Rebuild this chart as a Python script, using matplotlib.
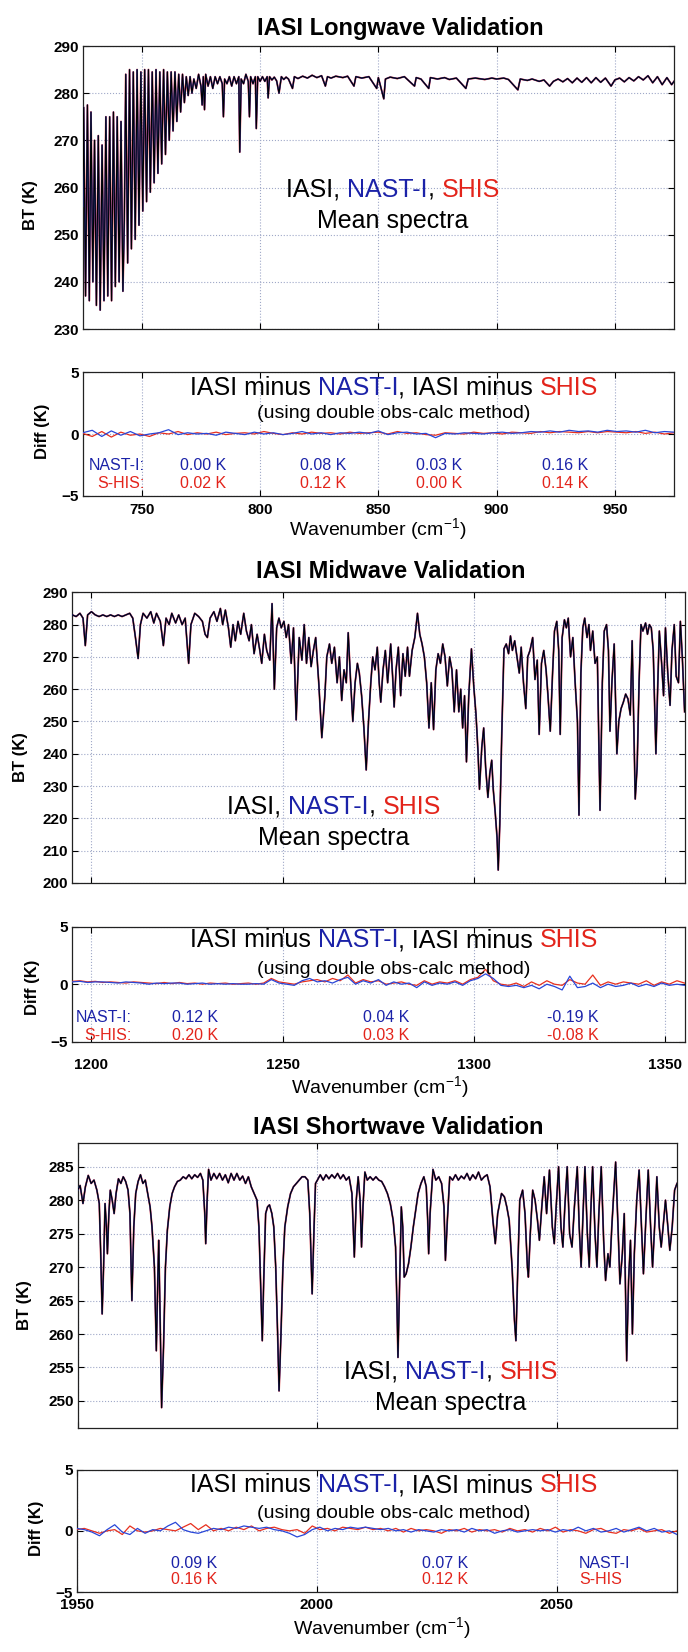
import numpy as np
import matplotlib
matplotlib.use('Agg')
import matplotlib.pyplot as plt

plt.rcParams['font.family'] = ['Liberation Sans', 'DejaVu Sans']
plt.rcParams['mathtext.fontset'] = 'custom'
plt.rcParams['mathtext.rm'] = 'Liberation Sans'
plt.rcParams['mathtext.it'] = 'Liberation Sans:italic'
plt.rcParams['mathtext.bf'] = 'Liberation Sans:bold'

# ---------------- data ----------------
lw_points = [
 (725.0,256),(725.4,277),(726.2,237),(727.0,277.5),(727.8,236),(728.5,276),(729.3,240),(730.0,270),
 (730.8,235),(731.6,271),(732.4,234),(733.2,269),(734.0,236),(734.8,275),(735.6,237),(736.4,275),
 (737.2,236),(738.0,276),(738.8,239),(739.6,275),(740.4,240),(741.2,274),(742.0,238),(742.6,253),
 (743.2,284),(744.0,244),(744.8,285),(745.6,247),(746.4,284.5),(747.2,249),(748.0,285),(748.8,252),
 (749.6,284.5),(750.4,255),(751.2,285),(752.0,257),(752.8,285),(753.6,259),(754.4,284.5),(755.2,261),
 (756.0,285),(756.8,263),(757.6,284.5),(758.4,265),(759.2,285),(760.0,267),(760.8,284.5),(761.6,270),
 (762.4,284.5),(763.2,272),(764.0,284.5),(764.8,274),(765.6,284),(766.4,276),(767.2,284),(768.0,278),
 (768.8,283.5),(769.6,279.5),(770.4,283.5),(771.2,280),(772,283),(773,281),(774,284),(775,281.5),
 (775.5,277.5),(776,283.5),(776.5,276.5),(777,284),(778,281.5),(779,283.5),(780,281),(781,283.5),
 (782,282),(783,283.5),(784,282),(784.5,275),(785,283),(786,282),(787,283.5),(788,281.5),(789,283.5),
 (790,282),(791,283.5),(791.4,267.5),(792,283),(793,282),(794,284),(795,282.5),(795.5,275),(796,283.5),
 (797,282),(798,283.5),(798.4,272.5),(799,283.5),(800,282.5),(801,283.5),(802,282.5),(803,283.5),
 (803.4,279),(804,283.5),(805,282.8),(806,283.4),(807,282.6),(808,280),(809,283.5),(810,282.9),(811,283.4),
 (812,283),(813.7,281),(814.5,283.5),(816,283.1),(818,283.6),(820,283.2),(822,283.8),(824,283.3),
 (826,283.7),(827.6,281.5),(828.5,283.5),(830,283.2),(832,283.6),(835,283.3),(837,283.6),(839.7,281.5),
 (840.5,283.5),(843,283.2),(846,283.5),(849.3,281),(850,283.3),(852.3,278.8),(853,283),(855,283.4),
 (858,283.1),(861,283.5),(865.3,281.5),(866,283.3),(868,283),(871.3,281),(872,283.3),(875,283),
 (878,283.3),(880,282.9),(883,283.2),(887,281),(888,283),(891,283.2),(895,282.9),(898,283.2),(900,283),
 (903,283.2),(905,282.9),(909,280.7),(910,283),(913,282.7),(915,283),(918,282.5),(920,282.8),
 (922.4,281.5),(924,282.5),(926,283),(928,282.4),(930,283.1),(932,282.2),(934,283.2),(936,282.3),
 (938,283.3),(940,282.2),(942,283.3),(944,282.3),(946,283.2),(948.4,281.5),(950,282.8),(952,283.2),
 (954,282.4),(956,283.3),(958,282.6),(960,283.5),(962,282.8),(964,283.7),(966,282.2),(968,283.5),
 (970,281.8),(972,283.3),(974,281.8),(975,282.5)]

mw_points = [
 (1195,283),(1196,282.5),(1197,283.5),(1197.8,282),(1198.4,273.5),(1199,283),(1200,284),(1201,283),
 (1202,282.5),(1203,283),(1204,282.5),(1205,283),(1206,282.5),(1207,283),(1208,282.5),(1209,283),
 (1210,283.5),(1210.8,282),(1211.5,276),(1212.2,269.5),(1212.8,280),(1213.5,283.5),(1214.5,282),
 (1215.5,284),(1216.3,280.5),(1217,283.5),(1218,281),(1218.8,273.5),(1219.5,282),(1220.3,280),
 (1221,283.5),(1222,280.5),(1222.8,283),(1223.7,280),(1224.5,282),(1225.4,268),(1226,280),(1227,283.5),
 (1228,282.5),(1229,281),(1229.7,277),(1230.3,276),(1231,282),(1232,284),(1232.8,281),(1233.7,285),
 (1234.3,280),(1235,284.5),(1235.8,279),(1236.4,273),(1237,280),(1237.6,275),(1238.3,281),(1239,277),
 (1239.8,283.5),(1240.5,278),(1241.2,275),(1241.8,280),(1242.5,271),(1243.3,277),(1244,272),(1244.5,268),
 (1245.2,277),(1245.8,272),(1246.6,269),(1247.2,286.5),(1247.8,260),(1248.4,279),(1249,282),(1249.6,279),
 (1250.3,281),(1250.9,276),(1251.5,280),(1252.2,268),(1252.8,279),(1253.5,250.5),(1254.3,276),(1255,269),
 (1255.6,280),(1256.2,268),(1256.8,276),(1257.4,267),(1258,272),(1258.6,276),(1259.4,262),(1260.2,245),
 (1261,258),(1261.5,270),(1262.2,274),(1262.8,268),(1263.5,273),(1264.2,262),(1264.8,270),(1265.4,256.5),
 (1266,266),(1266.6,262),(1267.1,277.5),(1267.7,263),(1268.3,250),(1268.9,262),(1269.5,268),(1270,265),
 (1270.6,258),(1271.2,248),(1271.8,235),(1272.4,250),(1273,262),(1273.5,270),(1274.1,266),(1274.7,273),
 (1275.2,262),(1275.6,256),(1276.2,266),(1276.8,272),(1277.4,262),(1278.2,274),(1278.7,264),(1279.1,254.5),
 (1279.6,266),(1280.2,273),(1280.8,258),(1281.4,271),(1282,264),(1282.6,273),(1283.1,264),(1283.8,272),
 (1284.5,276),(1285.2,283.5),(1285.8,277),(1286.4,274),(1287,270),(1287.6,262),(1288.2,248),(1288.8,262),
 (1289.4,247.5),(1290,266),(1290.6,271),(1291.2,268),(1291.8,274),(1292.4,270),(1293,261),(1293.6,270),
 (1294.2,266),(1294.8,253),(1295.4,266),(1296,253),(1296.5,260),(1297,248),(1297.5,258),(1298,237.5),
 (1298.6,258),(1299.3,272.5),(1299.9,261),(1300.5,252),(1301,241),(1301.4,229),(1302,242),(1302.5,248),
 (1303,236),(1303.6,226.5),(1304.1,234),(1304.6,238),(1305,229),(1305.5,222),(1306,214),(1306.3,204),
 (1306.7,218),(1307.2,245),(1307.8,272.5),(1308.4,274),(1309,271),(1309.5,276.5),(1310,272),(1310.6,275),
 (1311.2,270),(1311.8,265),(1312.3,273),(1312.9,262),(1313.5,254),(1314,270),(1314.6,272),(1315.3,276),
 (1315.9,263),(1316.5,269),(1317,246),(1317.6,268),(1318.2,272),(1318.8,266),(1319.3,258),(1319.9,247),
 (1320.5,265),(1321,278),(1321.6,281),(1322.1,272),(1322.5,246),(1323,276),(1323.6,281.5),(1324.1,279),
 (1324.6,282),(1325.2,270),(1325.8,276),(1326.4,262),(1327,250),(1327.4,221),(1327.9,265),(1328.4,279),
 (1328.9,282),(1329.5,276),(1330,280),(1330.4,272),(1331,278),(1331.6,268),(1332.2,270),(1332.9,222.5),
 (1333.5,262),(1334,278),(1334.6,280),(1335.1,272),(1335.5,247),(1336,262),(1336.6,274),(1337.3,240),
 (1337.8,250),(1338.4,254),(1339,256),(1339.6,258.5),(1340.2,257),(1340.8,252),(1341.3,275),(1342.1,226),
 (1342.6,236),(1343.1,262),(1343.6,280),(1344.1,278),(1344.8,280.5),(1345.3,277),(1345.8,280),(1346.3,279),
 (1346.8,272),(1347.5,240),(1348,262),(1348.4,278),(1349,268),(1349.5,258),(1350,279),(1350.6,265),
 (1351.2,255),(1351.7,272),(1352.3,280),(1352.8,264),(1353.4,262),(1353.9,281),(1354.4,270),(1355,253)]

sw_points = [
 (1950,281.5),(1950.5,282.2),(1951.1,279.5),(1951.6,282),(1952.2,283.7),(1952.8,282.5),(1953.4,283),
 (1954,281.5),(1954.5,279.5),(1954.8,272),(1955.1,263),(1955.4,270),(1955.7,279.5),(1956,276),(1956.2,272),
 (1956.5,278),(1956.8,281.5),(1957.2,280),(1957.6,278),(1958,281),(1958.5,283.2),(1959,282.5),(1959.5,283.5),
 (1960,282.8),(1960.5,281.5),(1960.9,278),(1961.3,265),(1961.7,276),(1962.1,281),(1962.6,282.8),
 (1963.1,283.8),(1963.6,282.5),(1964.1,283),(1964.6,281),(1965.1,279),(1965.5,276),(1966,270),(1966.4,257.5),
 (1966.7,268),(1966.9,274),(1967.2,262),(1967.5,249),(1967.9,258),(1968.3,270),(1968.7,275.5),(1969.2,279),
 (1969.7,281),(1970.2,282),(1970.8,282.8),(1971.4,283),(1972,283.5),(1972.6,283.2),(1973.2,283.8),
 (1973.8,283.2),(1974.4,283.8),(1975,283.4),(1975.6,284),(1976.1,283),(1976.5,278),(1976.7,273.5),
 (1977,280),(1977.3,284.6),(1977.8,283),(1978.4,284),(1979,283.2),(1979.6,284),(1980.2,283),(1980.8,283.8),
 (1981.4,282.6),(1982,284),(1982.6,283),(1983.2,284),(1983.8,283),(1984.4,283.6),(1985,282.5),
 (1985.6,283.5),(1986.2,282),(1986.8,281),(1987.4,280),(1987.8,276),(1988.2,266),(1988.5,259),(1988.8,268),
 (1989.2,278),(1989.6,279),(1990,279.3),(1990.5,278),(1990.9,276),(1991.3,270),(1991.7,260),(1992,251.5),
 (1992.4,260),(1992.8,270),(1993.2,276),(1993.8,279),(1994.4,281),(1995,282),(1995.6,282.5),(1996.2,283),
 (1996.8,283.5),(1997.4,283.5),(1998,283),(1998.4,278),(1998.9,266),(1999.3,276),(1999.6,282.5),(2000,283),
 (2000.6,283.8),(2001.2,283),(2001.8,283.8),(2002.4,283.2),(2003,283.8),(2003.6,283.3),(2004.2,284),
 (2004.8,283.2),(2005.4,283.8),(2006,283),(2006.6,283.5),(2007.2,281),(2007.7,271.5),(2008.1,280),
 (2008.5,283.5),(2008.9,280),(2009.2,273),(2009.5,279),(2009.9,284.2),(2010.4,283),(2011,283.5),(2011.6,283),
 (2012.2,283.5),(2012.8,283),(2013.4,282.8),(2014,282),(2014.6,281),(2015.2,279.5),(2015.8,277),(2016.3,273),
 (2016.6,264),(2016.8,256.5),(2017.1,266),(2017.5,279),(2017.8,276),(2018.1,268.5),(2018.5,269),(2019,270.5),
 (2019.5,273),(2020,276),(2020.5,278.5),(2021,281),(2021.6,282.5),(2022.2,283.5),(2022.7,282),(2023,277),
 (2023.2,272),(2023.5,278),(2024.1,284.6),(2024.7,283),(2025.3,283.5),(2025.9,282.5),(2026.4,279),
 (2026.7,271),(2027.1,277),(2027.6,283.5),(2028.2,283),(2028.8,283.8),(2029.4,283),(2030,283.6),
 (2030.6,283.2),(2031.2,284),(2031.8,283),(2032.4,283.8),(2033,283.2),(2033.6,284.2),(2034.2,283),
 (2034.8,283.5),(2035.4,283.8),(2036,282),(2036.6,277),(2037.1,273.5),(2037.6,278),(2038.4,281),
 (2039,280.5),(2039.5,279),(2040,277),(2040.6,270),(2041.1,262),(2041.4,259),(2041.8,270),(2042.2,280),
 (2042.8,281.5),(2043.3,278),(2043.8,270),(2044,268.5),(2044.4,275),(2044.9,281.5),(2045.4,280),
 (2045.9,277),(2046.3,274),(2046.8,279),(2047.3,283.5),(2047.8,278),(2048.4,284.5),(2049,276),(2049.4,273.5),
 (2049.8,279),(2050.3,285),(2050.8,276),(2051.2,273),(2051.6,279),(2052.1,285),(2052.6,275),(2053.1,273),
 (2053.6,279),(2054.2,285),(2054.6,276),(2055,270),(2055.4,278),(2055.8,285),(2056.3,275),(2056.7,270),
 (2057,278),(2057.4,285),(2057.9,275),(2058.3,270),(2058.7,278),(2059.2,285),(2059.7,274),(2060.1,268),
 (2060.6,272),(2061,270),(2061.4,276),(2061.8,281),(2062.2,285.7),(2062.7,276),(2063.1,267.5),(2063.6,272),
 (2064,278),(2064.5,256),(2064.9,268),(2065.3,274),(2065.7,260),(2066.1,272),(2066.6,280),(2067.1,284.5),
 (2067.6,276),(2068,269),(2068.5,277),(2069,284.5),(2069.5,276),(2069.9,270),(2070.4,277),(2070.8,283.5),
 (2071.3,276),(2071.7,273),(2072.1,276),(2072.6,280),(2073.1,276),(2073.5,272.5),(2074,276),(2074.5,281.5),
 (2075,282.5)]

lw_diff_nast = [0.1,0.3,-0.2,0.25,-0.1,0.2,-0.15,0.0,0.1,0.35,-0.05,0.1,0.0,0.05,-0.1,0.15,0.05,-0.05,0.15,
 0.0,0.1,-0.05,0.05,0.2,0.0,0.1,-0.05,0.1,0.05,0.15,0.05,0.25,-0.05,0.1,0.15,0.0,0.05,-0.3,0.05,0.0,0.1,
 0.05,0.0,0.1,0.15,0.05,0.1,0.2,0.15,0.25,0.15,0.3,0.2,0.25,0.15,0.3,0.2,0.25,0.15,0.3,0.1,0.2,0.15]
lw_diff_shis = [0.05,-0.2,0.2,-0.25,0.15,-0.1,0.0,-0.2,0.1,0.0,0.2,-0.05,0.1,0.0,0.15,-0.05,0.05,0.1,0.0,
 0.2,0.05,-0.05,0.1,0.0,0.15,0.05,0.1,0.0,0.15,0.05,0.1,0.15,0.0,0.2,0.05,0.1,-0.05,-0.1,0.1,0.05,0.0,
 0.15,0.05,0.1,0.0,0.15,0.1,0.05,0.2,0.1,0.2,0.15,0.1,0.2,0.1,0.2,0.15,0.1,0.2,0.05,0.15,0.0,0.1]
mw_diff_nast = [0.2,0.25,0.15,0.2,0.2,0.15,0.1,0.2,0.15,0.1,0.0,0.1,0.05,0.1,0.1,0.0,0.05,0.1,0.0,0.05,0.0,
 0.05,0.0,0.0,0.05,0.0,0.4,0.1,0.0,-0.1,0.3,0.5,0.2,0.3,0.1,0.4,0.6,0.0,0.3,0.1,0.4,-0.1,0.2,0.0,0.1,-0.3,
 0.2,-0.1,0.1,0.0,0.2,-0.1,0.3,0.5,0.9,0.5,-0.1,-0.2,-0.1,-0.3,-0.1,-0.4,0.0,-0.2,-0.5,0.7,-0.3,-0.2,0.1,
 -0.3,0.0,-0.2,-0.1,0.1,-0.2,0.0,-0.2,0.1,-0.1,0.0,-0.1]
mw_diff_shis = [0.25,0.3,0.2,0.25,0.15,0.2,0.15,0.1,0.2,0.15,0.1,0.05,0.15,0.05,0.15,0.05,0.1,0.0,0.1,0.05,
 0.1,0.0,0.05,0.1,0.0,0.1,0.5,0.2,0.1,0.0,0.2,0.3,0.4,0.2,0.5,0.3,0.8,0.1,0.4,0.2,0.3,0.0,0.1,0.2,0.0,-0.1,
 0.3,0.0,0.2,0.1,0.3,0.0,0.4,0.6,1.3,0.3,0.0,-0.1,0.1,-0.2,0.2,-0.1,0.3,0.0,-0.1,0.4,0.1,0.0,0.8,-0.1,0.2,
 0.0,0.2,0.1,0.0,0.3,-0.1,0.2,0.0,0.3,0.1]
sw_diff_nast = [0.2,0.1,-0.1,-0.4,0.1,0.5,-0.1,-0.3,0.2,-0.2,0.1,0.0,0.4,0.7,0.1,-0.1,-0.2,0.0,0.2,0.1,0.3,
 0.2,0.4,0.3,0.2,0.3,0.1,0.0,-0.2,-0.5,-0.3,0.1,0.3,0.0,0.2,0.1,0.3,0.2,0.3,0.2,0.1,0.2,0.0,0.1,-0.1,0.1,
 0.0,-0.1,0.1,0.0,0.1,-0.1,0.2,0.0,0.1,-0.2,0.0,0.1,-0.1,0.0,0.1,0.0,0.1,-0.1,0.1,0.0,0.3,0.0,0.2,-0.1,0.0,
 0.2,-0.1,0.1,0.3,0.0,0.2,-0.1,0.0,-0.3]
sw_diff_shis = [0.1,0.2,0.0,-0.2,0.0,0.1,-0.3,0.4,0.0,-0.1,0.0,0.2,0.1,0.0,0.3,0.6,0.1,0.5,0.0,0.2,0.0,0.3,
 0.1,0.4,0.0,0.2,0.3,0.1,0.0,0.1,-0.2,0.4,0.1,0.2,0.0,0.3,0.2,0.1,0.3,0.1,0.2,0.0,0.2,-0.1,0.2,0.0,0.1,0.0,
 -0.2,0.1,0.0,0.2,-0.1,0.1,0.0,0.1,-0.1,0.2,0.0,0.1,-0.1,0.2,0.0,0.3,-0.1,0.1,0.0,-0.2,0.1,0.2,-0.1,-0.2,
 0.1,0.0,0.2,-0.1,0.0,0.1,-0.2,0.0]

lw_xlim, mw_xlim, sw_xlim = (725, 975), (1195, 1355), (1950, 2075)
lw_ylim, mw_ylim, sw_ylim = (230, 290), (200, 290), (246, 288.5)
lw_xticks = [750, 800, 850, 900, 950]
mw_xticks = [1200, 1250, 1300, 1350]
sw_xticks = [1950, 2000, 2050]
lw_yticks = [230, 240, 250, 260, 270, 280, 290]
mw_yticks = [200, 210, 220, 230, 240, 250, 260, 270, 280, 290]
sw_yticks = [250, 255, 260, 265, 270, 275, 280, 285]
diff_yticks = [-5, 0, 5]

lw_mean_nast = ['0.00 K', '0.08 K', '0.03 K', '0.16 K']
lw_mean_shis = ['0.02 K', '0.12 K', '0.00 K', '0.14 K']
mw_mean_nast = ['0.12 K', '0.04 K', '-0.19 K']
mw_mean_shis = ['0.20 K', '0.03 K', '-0.08 K']
sw_mean_nast = ['0.09 K', '0.07 K']
sw_mean_shis = ['0.16 K', '0.12 K']

# ---------------- styling ----------------
W, H = 688, 1652
BLUE_T, RED_T = '#1b22a8', '#e3241b'
BLUE_L, RED_L = '#2846d8', '#e8301e'
GRID = '#9fa8c8'

fig = plt.figure(figsize=(W / 100, H / 100), dpi=100)
renderer = fig.canvas.get_renderer()


def rect(x0, y0, x1, y1):
    return [x0 / W, 1 - y1 / H, (x1 - x0) / W, (y1 - y0) / H]


def F(x, y):
    return (x / W, 1 - y / H)


def style(ax, xlim, ylim, xticks, yticks, xlabels, xpad):
    ax.set_xlim(*xlim)
    ax.set_ylim(*ylim)
    ax.set_xticks(xticks)
    ax.set_yticks(yticks)
    ax.tick_params(direction='in', length=4, width=0.8, top=True, right=True,
                   labelsize=11, pad=3.0)
    ax.tick_params(axis='x', pad=xpad)
    for lab in ax.get_xticklabels() + ax.get_yticklabels():
        lab.set_fontweight('bold')
    if not xlabels:
        ax.set_xticklabels([])
    ax.grid(True, linestyle=':', color=GRID, linewidth=0.8)
    for s in ax.spines.values():
        s.set_linewidth(0.9)
        s.set_color('#222222')


def ctext(x, y, parts, size, weight='normal'):
    texts, widths = [], []
    for s, c in parts:
        t = fig.text(0, 0, s, color=c, fontsize=size, fontweight=weight,
                     ha='left', va='center')
        texts.append(t)
        widths.append(t.get_window_extent(renderer).width)
    x0 = x - sum(widths) / 2
    for t, w in zip(texts, widths):
        t.set_position(F(x0, y))
        x0 += w


def bt_panel(r, pts, xlim, ylim, xticks, yticks, title, title_xy, ylab_xy, inner_xy):
    ax = fig.add_axes(r)
    wn = [p[0] for p in pts]
    bt = [p[1] for p in pts]
    ax.plot(wn, bt, color=RED_L, lw=1.3, zorder=2)
    ax.plot(wn, bt, color=BLUE_L, lw=1.0, zorder=3)
    ax.plot(wn, bt, color='black', lw=0.8, zorder=4)
    style(ax, xlim, ylim, xticks, yticks, False, 5)
    fig.text(*F(*title_xy), title, fontsize=17, fontweight='bold', ha='center', va='center')
    fig.text(*F(*ylab_xy), 'BT (K)', fontsize=12, fontweight='bold', rotation=90,
             ha='center', va='center')
    ix, iy = inner_xy
    ctext(ix, iy, [('IASI, ', 'black'), ('NAST-I', BLUE_T), (', ', 'black'), ('SHIS', RED_T)], 18)
    fig.text(*F(ix, iy + 31), 'Mean spectra', fontsize=18, ha='center', va='center')
    return ax


def diff_panel(r, xlim, d_nast, d_shis, xticks, xpad, ylab_xy, xlab_xy, head_xy):
    ax = fig.add_axes(r)
    xn = np.linspace(xlim[0], xlim[1], len(d_nast))
    xs = np.linspace(xlim[0], xlim[1], len(d_shis))
    ax.plot(xs, d_shis, color=RED_L, lw=0.9, zorder=3)
    ax.plot(xn, d_nast, color=BLUE_L, lw=0.9, zorder=4)
    style(ax, xlim, (-5, 5), xticks, diff_yticks, True, xpad)
    fig.text(*F(*ylab_xy), 'Diff (K)', fontsize=12, fontweight='bold', rotation=90,
             ha='center', va='center')
    fig.text(*F(*xlab_xy), r'Wavenumber (cm$^{-1}$)', fontsize=14, ha='center', va='center')
    hx, hy1, hy2 = head_xy
    ctext(hx, hy1, [('IASI minus ', 'black'), ('NAST-I', BLUE_T), (', IASI minus ', 'black'),
                    ('SHIS', RED_T)], 18)
    fig.text(*F(hx, hy2), '(using double obs-calc method)', fontsize=14, ha='center', va='center')
    return ax


# ---- Longwave ----
bt_panel(rect(82.7, 46, 674, 329), lw_points, lw_xlim, lw_ylim, lw_xticks, lw_yticks,
         'IASI Longwave Validation', (400, 29), (30, 205), (393, 190))
diff_panel(rect(82.7, 372.3, 674, 495.7), lw_xlim, lw_diff_nast, lw_diff_shis, lw_xticks, 5.0,
           (43, 431), (378, 529), (394, 388, 413))
fig.text(*F(145, 465), 'NAST-I:', color=BLUE_T, fontsize=11.5, ha='right', va='center')
fig.text(*F(145, 483), 'S-HIS:', color=RED_T, fontsize=11.5, ha='right', va='center')
for xc, a, b in zip([203.5, 323, 439, 565], lw_mean_nast, lw_mean_shis):
    fig.text(*F(xc, 465), a, color=BLUE_T, fontsize=11.5, ha='center', va='center')
    fig.text(*F(xc, 483), b, color=RED_T, fontsize=11.5, ha='center', va='center')

# ---- Midwave ----
bt_panel(rect(72.3, 592.3, 684.6, 883), mw_points, mw_xlim, mw_ylim, mw_xticks, mw_yticks,
         'IASI Midwave Validation', (391, 572), (20, 757), (334, 807))
diff_panel(rect(72.3, 926.7, 684.6, 1041.7), mw_xlim, mw_diff_nast, mw_diff_shis, mw_xticks, 12.0,
           (32, 987), (380, 1087), (394, 940, 970))
fig.text(*F(132, 1018), 'NAST-I:', color=BLUE_T, fontsize=11.5, ha='right', va='center')
fig.text(*F(132, 1036), 'S-HIS:', color=RED_T, fontsize=11.5, ha='right', va='center')
for xc, a, b in zip([195, 386.5, 572.5], mw_mean_nast, mw_mean_shis):
    fig.text(*F(xc, 1018), a, color=BLUE_T, fontsize=11.5, ha='center', va='center')
    fig.text(*F(xc, 1036), b, color=RED_T, fontsize=11.5, ha='center', va='center')

# ---- Shortwave ----
bt_panel(rect(77.7, 1143.3, 677, 1427.7), sw_points, sw_xlim, sw_ylim, sw_xticks, sw_yticks,
         'IASI Shortwave Validation', (398, 1127), (25, 1305), (451, 1372))
diff_panel(rect(76.7, 1469.7, 677, 1592), sw_xlim, sw_diff_nast, sw_diff_shis, sw_xticks, 4.5,
           (36, 1528), (382, 1628), (394, 1485, 1513))
for xc, a, b in zip([194, 445], sw_mean_nast, sw_mean_shis):
    fig.text(*F(xc, 1563), a, color=BLUE_T, fontsize=11.5, ha='center', va='center')
    fig.text(*F(xc, 1580), b, color=RED_T, fontsize=11.5, ha='center', va='center')
fig.text(*F(604, 1563), 'NAST-I', color=BLUE_T, fontsize=11.5, ha='center', va='center')
fig.text(*F(601, 1580), 'S-HIS', color=RED_T, fontsize=11.5, ha='center', va='center')

fig.savefig('out.png', dpi=100)
